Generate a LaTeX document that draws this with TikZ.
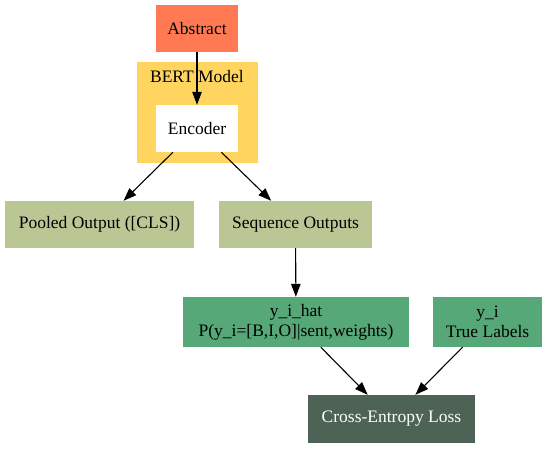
\documentclass[tikz,border=0pt]{standalone}
\usepackage{fontspec}
\setmainfont{Liberation Serif}
\usepackage{tikz}
\usetikzlibrary{arrows.meta, backgrounds}
\definecolor{coral}{RGB}{255, 122, 82}
\definecolor{bertgold}{RGB}{255, 213, 95}
\definecolor{sage}{RGB}{186, 199, 149}
\definecolor{jade}{RGB}{86, 168, 120}
\definecolor{slate}{RGB}{77, 99, 86}

\begin{document}
\begin{tikzpicture}[x=1pt, y=-1pt,
  box/.style={inner sep=0pt, align=center, font=\fontsize{17.5}{20}\selectfont},
  link/.style={draw=black, line width=1.1pt, -{Triangle[length=13pt, width=9.5pt]}}]

  \useasboundingbox (0, 0) rectangle (548, 449);

  % cluster
  \fill[bertgold] (137, 62) rectangle (258, 163);
  \node[box] (bertlabel) at (197, 77) {BERT Model};

  \node[box, fill=coral, minimum width=82pt, minimum height=47pt] (abstract) at (197, 28.5) {Abstract};
  \node[box, fill=white, minimum width=82pt, minimum height=47pt] (encoder) at (197, 128.5) {Encoder};

  \node[box, fill=sage, minimum width=189pt, minimum height=47pt] (pooled) at (99.5, 224.5) {Pooled Output ([CLS])};
  \node[box, fill=sage, minimum width=153pt, minimum height=47pt] (sequence) at (295.5, 224.5) {Sequence Outputs};

  \node[box, fill=jade, minimum width=226pt, minimum height=50pt] (yhat) at (296, 322) {y\_i\_hat\\P(y\_i=[B,I,O]|sent,weights)};
  \node[box, fill=jade, minimum width=109pt, minimum height=50pt] (ytrue) at (487.5, 322) {y\_i\\True Labels};

  \node[box, fill=slate, text=white, minimum width=167pt, minimum height=48pt] (loss) at (391.5, 419) {Cross-Entropy Loss};

  \draw[link] (abstract) -- (encoder);
  \draw[link] (encoder) -- (pooled);
  \draw[link] (encoder) -- (sequence);
  \draw[link] (sequence) -- (yhat);
  \draw[link] (yhat) -- (loss);
  \draw[link] (ytrue) -- (loss);

\end{tikzpicture}
\end{document}
